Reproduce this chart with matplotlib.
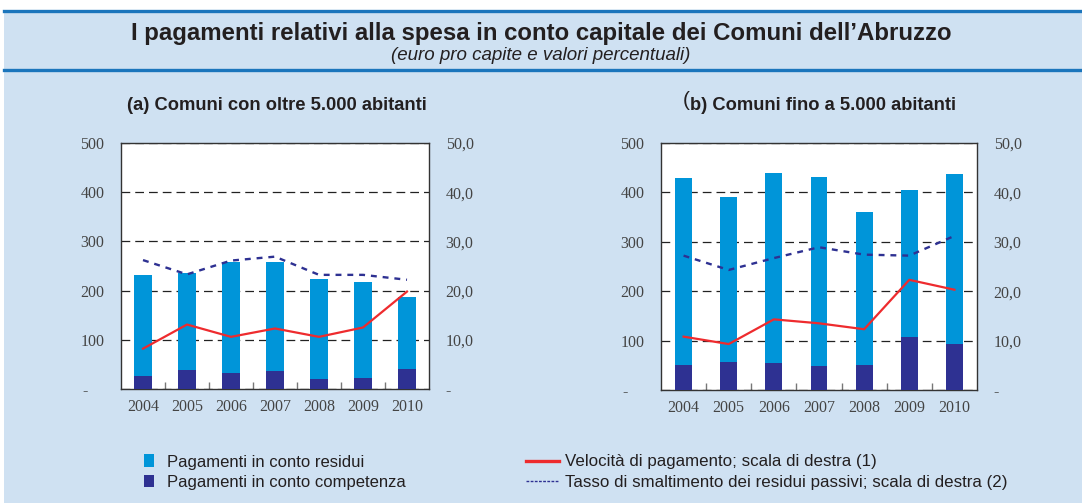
import matplotlib.pyplot as plt
from matplotlib.patches import Rectangle, Patch
from matplotlib.lines import Line2D
from matplotlib.ticker import FixedLocator, FuncFormatter
import numpy as np

years = ['2004', '2005', '2006', '2007', '2008', '2009', '2010']

# (a) Comuni con oltre 5.000 abitanti
tot_a = [232, 236, 258, 258, 224, 217, 187]
comp_a = [26, 39, 33, 37, 20, 22, 41]
vel_a = [8.2, 13.1, 10.6, 12.3, 10.6, 12.5, 19.8]
tasso_a = [26.2, 23.3, 26.1, 26.9, 23.2, 23.2, 22.2]

# (b) Comuni fino a 5.000 abitanti
tot_b = [429, 391, 440, 432, 361, 405, 438]
comp_b = [51, 57, 55, 49, 51, 107, 93]
vel_b = [10.8, 9.3, 14.3, 13.5, 12.3, 22.3, 20.3]
tasso_b = [27.2, 24.3, 26.7, 28.9, 27.4, 27.2, 31.2]

BG = '#cfe1f2'
C_RES = '#0095d9'
C_COMP = '#2e3192'
C_RED = '#ee2b2e'
C_LINE = '#1b75bc'
SANS = ['Liberation Sans', 'DejaVu Sans']
SERIF = ['Liberation Serif', 'DejaVu Serif']

fig = plt.figure(figsize=(10.82, 5.03), dpi=100)
fig.patch.set_facecolor('white')

# header / background
fig.patches.append(Rectangle((4 / 1082, 0), 1, 1 - 11 / 503, transform=fig.transFigure,
                             facecolor=BG, edgecolor='none', zorder=-2))
fig.add_artist(Line2D([4 / 1082, 1], [1 - 10.5 / 503] * 2, color=C_LINE, lw=2.4))
fig.add_artist(Line2D([4 / 1082, 1], [1 - 70 / 503] * 2, color=C_LINE, lw=2.4))

fig.text(0.5, 1 - 33 / 503, "I pagamenti relativi alla spesa in conto capitale dei Comuni dell\u2019Abruzzo",
         ha='center', va='center', fontsize=17.3, fontweight='bold', family=SANS, color='#231f20')
fig.text(0.5, 1 - 56 / 503, "(euro pro capite e valori percentuali)",
         ha='center', va='center', fontsize=13.5, style='italic', family=SANS, color='#231f20')


def panel(rect, tot, comp, vel, tasso, width):
    res = np.array(tot) - np.array(comp)
    x = np.arange(len(years))
    ax = fig.add_axes(rect)
    ax.set_facecolor('white')
    ax.bar(x, comp, width, color=C_COMP, zorder=3)
    ax.bar(x, res, width, bottom=comp, color=C_RES, zorder=3)
    ax.set_ylim(0, 500)
    ax.set_xlim(-0.5, 6.5)
    ax.set_yticks([0, 100, 200, 300, 400, 500])
    ax.yaxis.set_major_formatter(FuncFormatter(lambda v, p: '-    ' if v == 0 else '%d' % v))
    ax.grid(axis='y', color='#222222', ls=(0, (7, 4)), lw=0.9, zorder=1)
    ax.set_xticks(x)
    ax.set_xticklabels(years)
    ax.xaxis.set_minor_locator(FixedLocator(np.arange(0.5, 6, 1)))
    ax.tick_params(axis='x', which='major', length=0, pad=7)
    ax.tick_params(axis='x', which='minor', direction='in', length=5, color='#777777', width=1)
    ax.tick_params(axis='y', length=0, pad=12)
    for lab in ax.get_xticklabels() + ax.get_yticklabels():
        lab.set_family(SERIF)
        lab.set_fontsize(11.5)
        lab.set_color('#444444')
    for s in ax.spines.values():
        s.set_color('#333333')
        s.set_linewidth(1.0)

    ax2 = ax.twinx()
    ax2.set_ylim(0, 50)
    ax2.plot(x, vel, color=C_RED, lw=1.6, zorder=4)
    ax2.plot(x, tasso, color=C_COMP, lw=1.7, ls=(0, (2.5, 2.5)), zorder=4)
    ax2.set_yticks([0, 10, 20, 30, 40, 50])
    ax2.yaxis.set_major_formatter(FuncFormatter(lambda v, p: '-' if v == 0 else ('%.1f' % v).replace('.', ',')))
    ax2.tick_params(axis='y', length=0, pad=12)
    for lab in ax2.get_yticklabels():
        lab.set_family(SERIF)
        lab.set_fontsize(11.5)
        lab.set_color('#444444')
    for s in ax2.spines.values():
        s.set_visible(False)
    return ax


panel([121 / 1082, 1 - 389 / 503, 308 / 1082, 246 / 503], tot_a, comp_a, vel_a, tasso_a, 0.39)
panel([661 / 1082, 1 - 390 / 503, 316 / 1082, 247 / 503], tot_b, comp_b, vel_b, tasso_b, 0.376)

fig.text(277 / 1082, 1 - 105 / 503, "(a) Comuni con oltre 5.000 abitanti", ha='center', va='center',
         fontsize=13.2, fontweight='bold', family=SANS, color='#231f20')
fig.text(683 / 1082, 1 - 100 / 503, "(", ha='left', va='center',
         fontsize=15, family=SANS, color='#231f20')
fig.text(690 / 1082, 1 - 105 / 503, "b) Comuni fino a 5.000 abitanti", ha='left', va='center',
         fontsize=13.2, fontweight='bold', family=SANS, color='#231f20')

# legends
h_bars = [Patch(facecolor=C_RES), Patch(facecolor=C_COMP)]
l_bars = ['Pagamenti in conto residui', 'Pagamenti in conto competenza']
leg1 = fig.legend(h_bars, l_bars, loc='center left', bbox_to_anchor=(129 / 1082, 1 - 472 / 503),
                  frameon=False, handlelength=0.6, handleheight=0.8, handletextpad=0.8,
                  labelspacing=0.3, prop={'family': SANS, 'size': 12.0})
h_lines = [Line2D([], [], color=C_RED, lw=2.4), Line2D([], [], color=C_COMP, lw=1, ls=(0, (2, 1)))]
l_lines = ['Velocit\u00e0 di pagamento; scala di destra (1)',
           'Tasso di smaltimento dei residui passivi; scala di destra (2)']
leg2 = fig.legend(h_lines, l_lines, loc='center left', bbox_to_anchor=(511 / 1082, 1 - 472 / 503),
                  frameon=False, handlelength=1.95, handletextpad=0.35,
                  labelspacing=0.3, prop={'family': SANS, 'size': 12.2})
for leg in (leg1, leg2):
    for t in leg.get_texts():
        t.set_color('#231f20')

fig.savefig('out.png', dpi=100, facecolor=fig.get_facecolor())
